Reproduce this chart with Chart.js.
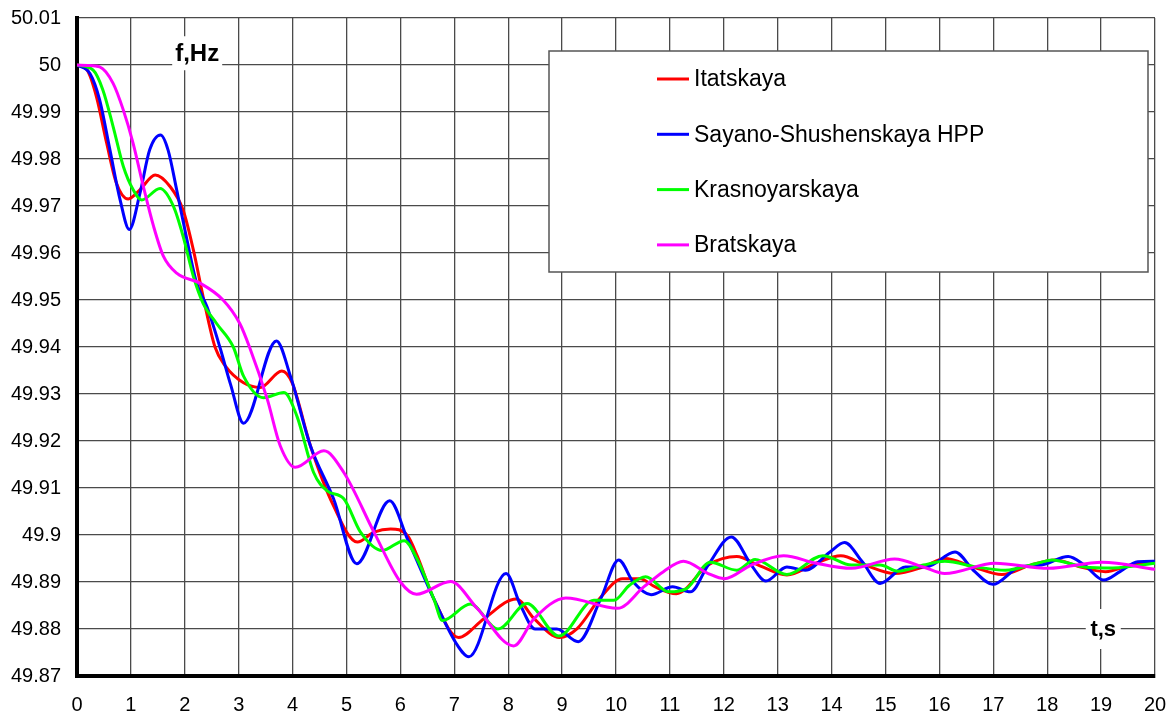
<!DOCTYPE html>
<html>
<head>
<meta charset="utf-8">
<script src="https://cdn.jsdelivr.net/npm/chart.js@4/dist/chart.umd.min.js"></script>
<style>
  html, body { margin: 0; padding: 0; background: #fff; }
</style>
</head>
<body>
<canvas id="freq-chart" width="1168" height="716"></canvas>
<script>
// frequency after disturbance (t in s, f in Hz)
const seriesNames = ["Itatskaya", "Sayano-Shushenskaya HPP", "Krasnoyarskaya", "Bratskaya"];
const seriesColors = ["#ff0000", "#0000ff", "#00ff00", "#ff00ff"];

const itatT = [0, 0.19, 0.36, 0.55, 0.73, 0.95, 1.17, 1.45, 1.73, 1.97, 2.16, 2.34, 2.56, 2.75, 3.09, 3.4, 3.8, 3.99, 4.33, 4.76, 5.2, 5.51, 5.82, 6.13, 6.31, 6.62, 7.08, 7.55, 8.15, 8.48, 8.95, 9.28, 9.72, 10.12, 10.45, 10.72, 11.12, 11.71, 12.24, 12.64, 13.17, 13.71, 14.17, 14.63, 15.17, 15.7, 16.1, 16.63, 17.16, 17.69, 18.15, 18.62, 19.08, 19.55, 20];
const itatF = [50, 49.9989, 49.9933, 49.9834, 49.9749, 49.9715, 49.9735, 49.9766, 49.9741, 49.9691, 49.9606, 49.9507, 49.94, 49.936, 49.9324, 49.9314, 49.9349, 49.9324, 49.919, 49.9062, 49.8985, 49.9006, 49.9013, 49.8999, 49.8956, 49.8864, 49.8782, 49.8822, 49.8864, 49.8822, 49.8782, 49.8801, 49.8868, 49.8907, 49.8907, 49.889, 49.8875, 49.8936, 49.8954, 49.8936, 49.8915, 49.894, 49.8956, 49.8936, 49.8918, 49.8932, 49.895, 49.8932, 49.8916, 49.8936, 49.8947, 49.8932, 49.8922, 49.8936, 49.8943];

const sayanoT = [0, 0.24, 0.42, 0.61, 0.8, 0.97, 1.17, 1.35, 1.55, 1.69, 1.85, 2.04, 2.22, 2.41, 2.65, 2.85, 3.09, 3.7, 3.96, 4.33, 4.76, 5.19, 5.8, 6.13, 6.62, 7.06, 7.27, 7.96, 8.23, 8.5, 8.9, 9.3, 9.72, 10.05, 10.32, 10.65, 11.05, 11.38, 11.71, 12.14, 12.51, 12.78, 13.17, 13.51, 13.97, 14.24, 14.57, 14.9, 15.37, 15.76, 16.29, 16.63, 16.99, 17.49, 17.89, 18.39, 18.69, 19.05, 19.35, 19.68, 20];
const sayanoF = [50, 49.9982, 49.9926, 49.982, 49.9713, 49.965, 49.9728, 49.982, 49.9851, 49.9819, 49.9734, 49.9628, 49.9536, 49.9486, 49.94, 49.932, 49.9238, 49.9413, 49.9338, 49.919, 49.9077, 49.8939, 49.9073, 49.8992, 49.8864, 49.8765, 49.8741, 49.8918, 49.885, 49.88, 49.88, 49.8773, 49.8865, 49.8947, 49.89, 49.8873, 49.889, 49.8879, 49.8936, 49.8996, 49.8936, 49.8902, 49.8932, 49.8925, 49.8964, 49.8984, 49.8943, 49.8897, 49.8932, 49.8932, 49.8964, 49.8925, 49.8895, 49.8932, 49.8936, 49.8954, 49.8936, 49.8904, 49.8922, 49.8943, 49.8944];

const krasT = [0, 0.3, 0.48, 0.67, 0.86, 1.04, 1.2, 1.54, 1.79, 1.97, 2.16, 2.34, 2.59, 2.9, 3.09, 3.46, 3.84, 4.08, 4.39, 4.64, 4.95, 5.26, 5.66, 6.07, 6.31, 6.62, 6.78, 7.3, 7.81, 8.35, 8.94, 9.59, 9.96, 10.25, 10.55, 10.98, 11.31, 11.75, 12.24, 12.58, 13.17, 13.84, 14.37, 14.9, 15.23, 15.7, 16.1, 16.69, 17.22, 17.82, 18.09, 18.69, 19.22, 20];
const krasF = [50, 49.9989, 49.9947, 49.9869, 49.9784, 49.9735, 49.9713, 49.9737, 49.9699, 49.9635, 49.955, 49.9493, 49.945, 49.94, 49.9338, 49.9292, 49.9303, 49.9253, 49.9133, 49.9094, 49.9077, 49.9006, 49.8967, 49.8988, 49.8949, 49.8864, 49.8818, 49.8853, 49.88, 49.8854, 49.8785, 49.8861, 49.8861, 49.8893, 49.8911, 49.8879, 49.8886, 49.8942, 49.8925, 49.8948, 49.8916, 49.8956, 49.8936, 49.8936, 49.8923, 49.8936, 49.8944, 49.8932, 49.8925, 49.894, 49.8947, 49.8932, 49.893, 49.894];

const bratT = [0, 0.2, 0.42, 0.67, 0.86, 1.04, 1.23, 1.42, 1.6, 1.85, 2.28, 2.71, 3.02, 3.2, 3.53, 3.77, 4.05, 4.58, 4.95, 5.51, 6.0, 6.3, 6.93, 7.43, 8.1, 8.48, 9.07, 10.03, 10.52, 10.88, 11.25, 11.71, 12.01, 12.51, 13.11, 13.71, 14.37, 15.17, 15.7, 16.1, 17.03, 18.02, 19.02, 20];
const bratF = [50, 49.9999, 49.9996, 49.9961, 49.9904, 49.9834, 49.9742, 49.9657, 49.9594, 49.9557, 49.9536, 49.95, 49.945, 49.94, 49.9289, 49.919, 49.9144, 49.9179, 49.9133, 49.9006, 49.89, 49.8874, 49.8901, 49.8843, 49.8764, 49.8822, 49.8866, 49.8844, 49.889, 49.8922, 49.8944, 49.8918, 49.8907, 49.8936, 49.8956, 49.894, 49.8929, 49.8949, 49.8932, 49.8918, 49.894, 49.8929, 49.8942, 49.8927];

const timeTicks = [0, 1, 2, 3, 4, 5, 6, 7, 8, 9, 10, 11, 12, 13, 14, 15, 16, 17, 18, 19, 20];
const freqTicks = [49.87, 49.88, 49.89, 49.9, 49.91, 49.92, 49.93, 49.94, 49.95, 49.96, 49.97, 49.98, 49.99, 50, 50.01];

const seriesT = [itatT, sayanoT, krasT, bratT];
const seriesF = [itatF, sayanoF, krasF, bratF];

const datasets = seriesNames.map((name, k) => ({
  label: name,
  data: seriesT[k].map((t, i) => ({ x: t, y: seriesF[k][i] })),
  borderColor: seriesColors[k],
  borderWidth: 3,
  pointRadius: 0,
  fill: false,
  cubicInterpolationMode: "monotone",
  order: 3 - k, // later series on top, as in the original
}));

const gridColor = "#4a4a4a";

// "f,Hz" / "t,s" notes and the boxed legend
const overlay = {
  id: "overlay",
  beforeDatasetsDraw(chart) {
    const { ctx, scales } = chart;
    const notes = [
      { text: "f,Hz", font: "bold 24px Arial", x: scales.x.getPixelForValue(2.23), y: scales.y.getPixelForValue(50.0025), w: 50, h: 34 },
      { text: "t,s", font: "bold 22px Arial", x: scales.x.getPixelForValue(19.04), y: scales.y.getPixelForValue(49.88), w: 35, h: 40 },
    ];
    ctx.save();
    ctx.textAlign = "center";
    ctx.textBaseline = "middle";
    notes.forEach((n) => {
      ctx.fillStyle = "#fff";
      ctx.fillRect(n.x - n.w / 2, n.y - n.h / 2, n.w, n.h);
      ctx.fillStyle = "#000";
      ctx.font = n.font;
      ctx.fillText(n.text, n.x, n.y + 1);
    });
    ctx.restore();
  },
  afterDatasetsDraw(chart) {
    const { ctx } = chart;
    const left = 549, top = 51, width = 599, height = 221;
    ctx.save();
    ctx.fillStyle = "#fff";
    ctx.fillRect(left, top, width, height);
    ctx.strokeStyle = "#555";
    ctx.lineWidth = 1.5;
    ctx.strokeRect(left, top, width, height);
    ctx.font = "23px Arial";
    ctx.textAlign = "left";
    ctx.textBaseline = "middle";
    seriesNames.forEach((name, k) => {
      const y = 79 + k * 55.3;
      ctx.strokeStyle = seriesColors[k];
      ctx.lineWidth = 3;
      ctx.beginPath();
      ctx.moveTo(657, y);
      ctx.lineTo(689, y);
      ctx.stroke();
      ctx.fillStyle = "#000";
      ctx.fillText(name, 694, y + 1);
    });
    ctx.restore();
  },
};

const ctx = document.getElementById("freq-chart").getContext("2d");

new Chart(ctx, {
  type: "line",
  data: { datasets },
  plugins: [overlay],
  options: {
    responsive: false,
    animation: false,
    layout: { padding: { top: 18, right: 13, left: 0, bottom: 0 } },
    plugins: {
      legend: { display: false },
      tooltip: { enabled: false },
    },
    scales: {
      x: {
        type: "linear",
        min: 0,
        max: 20,
        afterBuildTicks: (s) => { s.ticks = timeTicks.map((v) => ({ value: v })); },
        afterFit: (s) => { s.height = 40; s.paddingLeft = 0; s.paddingRight = 0; },
        grid: { color: gridColor, lineWidth: 1.3, drawTicks: false },
        border: { color: "#000", width: 4 },
        ticks: { color: "#000", font: { family: "Arial", size: 20 }, padding: 17, maxRotation: 0, autoSkip: false },
      },
      y: {
        type: "linear",
        min: 49.87,
        max: 50.01,
        afterBuildTicks: (s) => { s.ticks = freqTicks.map((v) => ({ value: v })); },
        afterFit: (s) => { s.width = 77; s.paddingTop = 0; s.paddingBottom = 0; },
        grid: { color: gridColor, lineWidth: 1.3, drawTicks: false },
        border: { color: "#000", width: 4 },
        ticks: { color: "#000", font: { family: "Arial", size: 20 }, padding: 16, autoSkip: false, callback: (v) => String(v) },
      },
    },
  },
});
</script>
</body>
</html>
